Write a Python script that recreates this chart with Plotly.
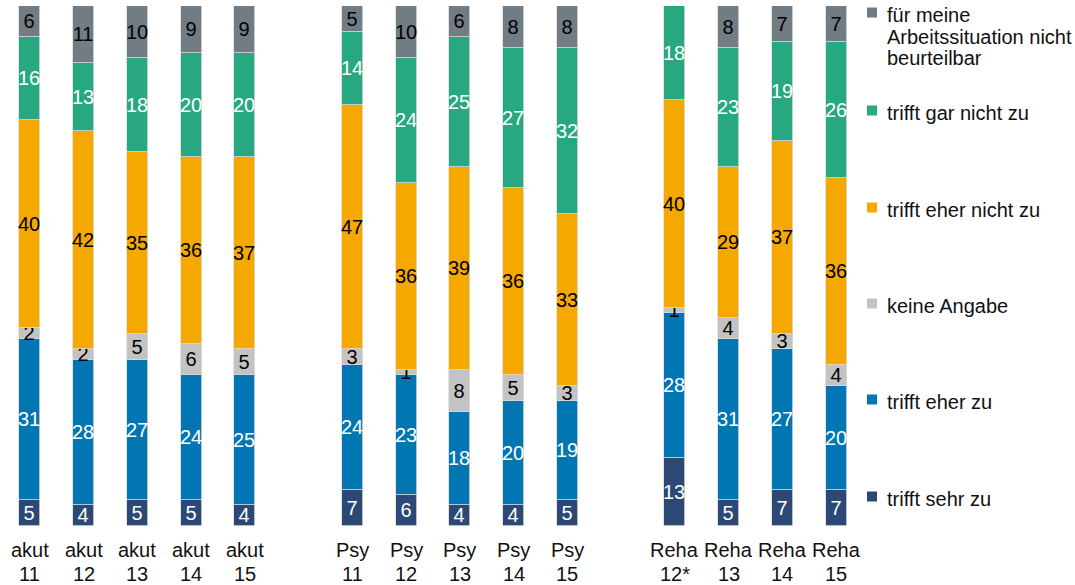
import plotly.graph_objects as go

# Category positions (gaps between the three groups) and two-line category labels
positions = [0, 1, 2, 3, 4, 6, 7, 8, 9, 10, 12, 13, 14, 15]
label_top = ["akut"] * 5 + ["Psy"] * 5 + ["Reha"] * 4
label_bottom = ["11", "12", "13", "14", "15",
                "11", "12", "13", "14", "15",
                "12*", "13", "14", "15"]

# Shares in percent, stacked from bottom to top
sehr_zu = [5, 4, 5, 5, 4, 7, 6, 4, 4, 5, 13, 5, 7, 7]
eher_zu = [31, 28, 27, 24, 25, 24, 23, 18, 20, 19, 28, 31, 27, 20]
keine_angabe = [2, 2, 5, 6, 5, 3, 1, 8, 5, 3, 1, 4, 3, 4]
eher_nicht_zu = [40, 42, 35, 36, 37, 47, 36, 39, 36, 33, 40, 29, 37, 36]
gar_nicht_zu = [16, 13, 18, 20, 20, 14, 24, 25, 27, 32, 18, 23, 19, 26]
nicht_beurteilbar = [6, 11, 10, 9, 9, 5, 10, 6, 8, 8, 0, 8, 7, 7]

series = [
    (["trifft sehr zu"], sehr_zu, "#2C4874", "white"),
    (["trifft eher zu"], eher_zu, "#0176B3", "white"),
    (["keine Angabe"], keine_angabe, "#C3C3C3", "black"),
    (["trifft eher nicht zu"], eher_nicht_zu, "#F5A800", "black"),
    (["trifft gar nicht zu"], gar_nicht_zu, "#27A880", "white"),
    (["für meine", "Arbeitssituation nicht", "beurteilbar"], nicht_beurteilbar, "#727C85", "black"),
]

W, H = 1075, 585
ML, MR, MT, MB = 3, 212, 6, 59
PW, PH = W - ML - MR, H - MT - MB
FONT = "Liberation Sans, Arial, sans-serif"
FS = 20
TXT = "#111111"

fig = go.Figure()
for lines, vals, color, tcolor in series:
    fig.add_trace(go.Bar(
        x=positions, y=vals, name=" ".join(lines),
        marker=dict(color=color, line=dict(color="#DCDCDC", width=0.8)),
        width=0.39,
        text=[str(v) if v else "" for v in vals],
        textposition="inside", insidetextanchor="middle",
        textfont=dict(color=tcolor, size=FS, family=FONT),
        textangle=0, cliponaxis=False, showlegend=False,
        hoverinfo="name+y",
    ))


def px_x(x):
    return (x - ML) / PW


def px_y(y):
    return (H - MB - y) / PH


annotations, shapes = [], []

# Category labels below the bars, two lines each
for pos, top, bottom in zip(positions, label_top, label_bottom):
    for txt, yc in ((top, 550), (bottom, 574)):
        annotations.append(dict(xref="x", yref="paper", x=pos, y=px_y(yc),
                                xanchor="center", yanchor="middle", text=txt,
                                showarrow=False,
                                font=dict(size=FS, color=TXT, family=FONT)))

# Legend at the right: square swatch plus label, one baseline per entry
legend_baselines = [22, 120, 217, 313, 409, 506]
for (lines, _, color, _), base in zip(reversed(series), legend_baselines):
    sc = base - 9.5
    shapes.append(dict(type="rect", xref="paper", yref="paper",
                       x0=px_x(867), x1=px_x(877), y0=px_y(sc + 5), y1=px_y(sc - 5),
                       fillcolor=color, line=dict(width=0)))
    for i, line in enumerate(lines):
        annotations.append(dict(xref="paper", yref="paper", x=px_x(885),
                                y=px_y(base - 7 + i * 21.5),
                                xanchor="left", yanchor="middle",
                                text=line, showarrow=False, align="left",
                                font=dict(size=FS, color=TXT, family=FONT)))

fig.update_layout(
    width=W, height=H,
    margin=dict(l=ML, r=MR, t=MT, b=MB),
    barmode="stack", plot_bgcolor="white", paper_bgcolor="white",
    uniformtext=dict(minsize=FS, mode="show"),
    shapes=shapes, annotations=annotations,
    font=dict(family=FONT, size=FS, color=TXT),
    xaxis=dict(range=[-0.5, 15.5], showticklabels=False, showgrid=False,
               zeroline=False, showline=False, ticks="", automargin=False),
    yaxis=dict(range=[0, 100], visible=False, automargin=False),
    bargap=0,
)

fig.write_html("out.html")
